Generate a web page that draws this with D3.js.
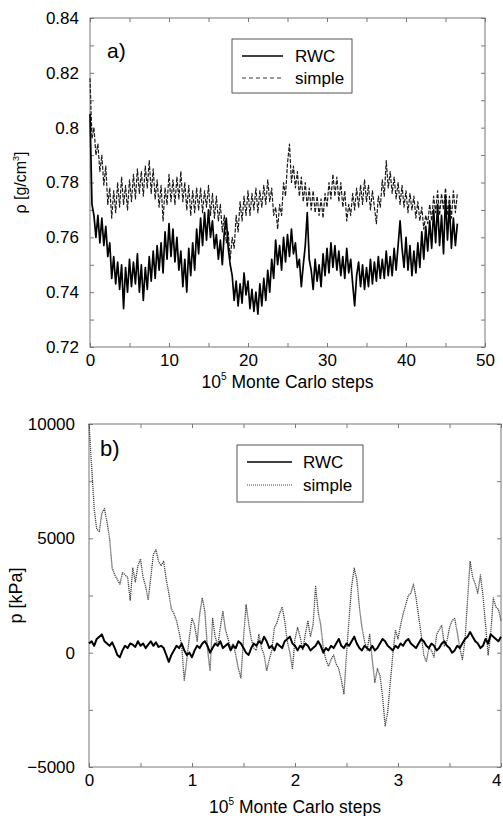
<!DOCTYPE html>
<html>
<head>
<meta charset="utf-8">
<script src="https://cdn.jsdelivr.net/npm/d3@7"></script>
<style>
  body { margin: 0; background: #fff; }
  svg text { font-family: "Liberation Sans", Arial, Helvetica, sans-serif; fill: #000; }
  .frame { fill: none; stroke: #777; stroke-width: 1; }
  .tick line { stroke: #777; }
  .domain { display: none; }
</style>
</head>
<body>
<script>
(function(){

//panel a) density, one sample every 0.25 x 10^5 steps
var stepA = 0.25;
var rhoSimple = [
  0.818, 0.796, 0.800, 0.790, 0.794, 0.784, 0.790, 0.779, 0.786, 0.772, 0.778, 0.767,
  0.777, 0.769, 0.780, 0.771, 0.782, 0.772, 0.779, 0.770, 0.781, 0.773, 0.783, 0.774,
  0.785, 0.776, 0.784, 0.775, 0.786, 0.778, 0.788, 0.776, 0.785, 0.774, 0.781, 0.771,
  0.779, 0.766, 0.778, 0.772, 0.783, 0.773, 0.781, 0.772, 0.782, 0.774, 0.784, 0.773,
  0.780, 0.770, 0.779, 0.768, 0.777, 0.769, 0.778, 0.770, 0.778, 0.769, 0.777, 0.771,
  0.779, 0.768, 0.776, 0.767, 0.775, 0.766, 0.772, 0.762, 0.768, 0.758, 0.762, 0.752,
  0.760, 0.756, 0.768, 0.762, 0.773, 0.766, 0.775, 0.768, 0.777, 0.768, 0.776, 0.770,
  0.778, 0.769, 0.777, 0.771, 0.779, 0.772, 0.781, 0.773, 0.778, 0.768, 0.771, 0.763,
  0.772, 0.768, 0.780, 0.775, 0.787, 0.794, 0.780, 0.786, 0.778, 0.784, 0.775, 0.782,
  0.773, 0.780, 0.771, 0.778, 0.770, 0.777, 0.769, 0.775, 0.768, 0.774, 0.767, 0.776,
  0.771, 0.780, 0.774, 0.783, 0.775, 0.782, 0.773, 0.780, 0.771, 0.777, 0.766, 0.772,
  0.768, 0.776, 0.770, 0.778, 0.771, 0.779, 0.772, 0.781, 0.773, 0.779, 0.770, 0.777,
  0.771, 0.765, 0.775, 0.771, 0.781, 0.775, 0.788, 0.778, 0.784, 0.776, 0.782, 0.774,
  0.780, 0.772, 0.779, 0.771, 0.777, 0.769, 0.776, 0.770, 0.775, 0.767, 0.773, 0.766,
  0.771, 0.763, 0.768, 0.765, 0.772, 0.766, 0.775, 0.769, 0.777, 0.768, 0.776, 0.770,
  0.778, 0.768, 0.775, 0.767, 0.777, 0.769, 0.776
];
var rhoRWC = [
  0.805, 0.772, 0.768, 0.760, 0.768, 0.758, 0.767, 0.757, 0.764, 0.753, 0.758, 0.745,
  0.753, 0.743, 0.751, 0.741, 0.750, 0.734, 0.749, 0.740, 0.752, 0.742, 0.751, 0.743,
  0.754, 0.740, 0.750, 0.737, 0.749, 0.741, 0.753, 0.744, 0.755, 0.745, 0.757, 0.748,
  0.758, 0.747, 0.762, 0.752, 0.765, 0.753, 0.763, 0.751, 0.760, 0.748, 0.755, 0.742,
  0.752, 0.740, 0.756, 0.746, 0.758, 0.748, 0.763, 0.754, 0.767, 0.757, 0.769, 0.759,
  0.770, 0.760, 0.766, 0.756, 0.761, 0.752, 0.759, 0.750, 0.762, 0.767, 0.756, 0.750,
  0.746, 0.737, 0.744, 0.735, 0.743, 0.736, 0.747, 0.739, 0.744, 0.734, 0.741, 0.733,
  0.740, 0.732, 0.743, 0.735, 0.745, 0.737, 0.748, 0.740, 0.752, 0.745, 0.759, 0.750,
  0.757, 0.748, 0.760, 0.751, 0.761, 0.753, 0.763, 0.754, 0.758, 0.749, 0.752, 0.742,
  0.750, 0.757, 0.769, 0.752, 0.748, 0.741, 0.752, 0.744, 0.750, 0.742, 0.754, 0.746,
  0.756, 0.747, 0.758, 0.749, 0.757, 0.748, 0.755, 0.746, 0.753, 0.745, 0.756, 0.747,
  0.752, 0.743, 0.735, 0.746, 0.751, 0.742, 0.750, 0.741, 0.749, 0.742, 0.752, 0.743,
  0.751, 0.744, 0.753, 0.745, 0.752, 0.745, 0.755, 0.746, 0.753, 0.746, 0.756, 0.748,
  0.757, 0.766, 0.756, 0.749, 0.760, 0.748, 0.757, 0.746, 0.755, 0.747, 0.758, 0.749,
  0.762, 0.752, 0.764, 0.755, 0.766, 0.756, 0.770, 0.758, 0.772, 0.757, 0.768, 0.754,
  0.775, 0.759, 0.772, 0.756, 0.767, 0.757, 0.765
];

//panel b) pressure, one sample every 0.025 x 10^5 steps
var stepB = 0.025;
var pSimple = [
  10000, 8200, 6300, 5400, 5300, 6100, 6300, 5700, 5000, 3700,
  3400, 3200, 3000, 3500, 3400, 3300, 2300, 3700, 3100, 3800,
  4100, 3300, 2900, 2300, 3300, 4300, 4500, 4000, 3800, 4000,
  3200, 2600, 1900, 1700, 1400, 900, 300, -1200, -300, 700,
  1500, 1200, 500, 1700, 2400, 1800, 200, -800, 1500, 700,
  300, 1100, 1800, 1000, 600, 200, 400, -100, -700, -1100,
  600, 2100, 1300, 600, 200, 100, 800, 200, -100, -800,
  -300, 100, 1100, 1300, 1700, 2000, 1400, 500, 0, -700,
  600, 1100, 700, 100, 800, 1400, 700, 1200, 2900, 1800,
  1200, 200, -300, -600, -300, -100, -500, -700, -1200, -1800,
  -100, 1500, 2900, 3700, 3200, 2000, 1100, 500, 100, 800,
  -300, -1300, -700, -1000, -1900, -3200, -2600, -1300, -100, 1000,
  600, 1200, 1700, 2100, 2500, 2600, 3000, 2400, 1600, 800,
  -100, -400, 200, 100, -200, 800, 1000, 1200, 300, 500,
  1100, 1400, 1500, 900, 200, -300, 500, 2300, 4000, 3300,
  3000, 2600, 3400, 2500, 1200, -100, 800, 2400, 2000, 1900,
  1400
];
var pRWC = [
  400, 500, 300, 600, 700, 800, 500, 400, 300, 450,
  200, -100, -200, 100, 300, 200, 400, 350, 250, 500,
  300, 400, 200, 350, 500, 300, 450, 250, 300, 200,
  -100, -400, -100, 100, 300, 200, 400, 100, -100, 0,
  -200, 100, 300, 200, 400, 500, 300, 0, 200, 400,
  300, 500, 200, 300, 400, 100, 300, 200, 500, 400,
  200, 0, -100, 200, 400, 300, 500, 400, 700, 500,
  200, 300, 100, 400, 300, 200, 500, 600, 700, 400,
  300, 100, 300, 200, 400, 300, 100, 200, 300, 500,
  300, 0, 200, 100, 300, 200, 400, 600, 300, 200,
  400, 300, 500, 700, 400, 200, 100, 300, 200, 100,
  300, 100, 200, 400, 600, 500, 300, 200, 100, 300,
  200, 400, 300, 500, 600, 400, 300, 200, 400, 600,
  500, 300, 200, 400, 300, 100, 200, 400, 500, 300,
  200, 0, 100, 300, 200, 400, 600, 700, 900, 700,
  500, 400, 200, 300, 600, 400, 800, 700, 600, 500,
  700
];

//tick values
var xMajorA = [0, 10, 20, 30, 40, 50],
    xAllA = [0, 5, 10, 15, 20, 25, 30, 35, 40, 45, 50],
    yMajorA = [0.72, 0.74, 0.76, 0.78, 0.8, 0.82, 0.84],
    yAllA = [0.72, 0.73, 0.74, 0.75, 0.76, 0.77, 0.78, 0.79, 0.8, 0.81, 0.82, 0.83, 0.84];
var xMajorB = [0, 1, 2, 3, 4],
    xAllB = [0, 0.5, 1, 1.5, 2, 2.5, 3, 3.5, 4],
    yMajorB = [-5000, 0, 5000, 10000],
    yAllB = [-5000, -2500, 0, 2500, 5000, 7500, 10000];

var seriesNames = ["RWC", "simple"];

var width = 503,
    height = 816;

var svg = d3.select("body")
    .append("svg")
    .attr("width", width)
    .attr("height", height);

//panel a)
var xA = d3.scaleLinear().domain([0, 50]).range([90, 485]),
    yA = d3.scaleLinear().domain([0.72, 0.84]).range([347, 18]);

drawAxes(svg, xA, yA, {
    xAll: xAllA, xMajor: xMajorA, yAll: yAllA, yMajor: yMajorA,
    yFormat: function(d){ return String(+d.toFixed(2)); },
    xFormat: function(d){ return String(d); },
    yPad: 11, labelY: 388, labelSize: 17.5
});
yLabel(svg, 26, (18 + 347) / 2, "ρ [g/cm", "3", "]", 16);

drawSeries(svg, rhoSimple, stepA, xA, yA, {stroke: "#1a1a1a", width: 1.2, dash: "4,1.5"});
drawSeries(svg, rhoRWC, stepA, xA, yA, {stroke: "#000", width: 1.7, dash: null});

svg.append("text").attr("x", 107).attr("y", 58).style("font-size", "21px").text("a)");

legend(svg, {x: 232, y: 39, w: 120, h: 54, lx0: 242, lx1: 283, tx: 295, y1: 56, y2: 78,
    dash2: "4,3", stroke2: "#333"});

//panel b)
var xB = d3.scaleLinear().domain([0, 4]).range([89, 501]),
    yB = d3.scaleLinear().domain([-5000, 10000]).range([767, 424]);

drawAxes(svg, xB, yB, {
    xAll: xAllB, xMajor: xMajorB, yAll: yAllB, yMajor: yMajorB,
    yFormat: d3.format("d"),
    xFormat: function(d){ return String(d); },
    yPad: 14, labelY: 813, labelSize: 17.5
});
yLabel(svg, 22, (424 + 767) / 2, "p [kPa]", "", "", 18);

drawSeries(svg, pSimple, stepB, xB, yB, {stroke: "#444", width: 1.3, dash: "1.2,0.8"});
drawSeries(svg, pRWC, stepB, xB, yB, {stroke: "#000", width: 2, dash: null});

svg.append("text").attr("x", 100).attr("y", 456).style("font-size", "22px").text("b)");

legend(svg, {x: 237, y: 445, w: 126, h: 57, lx0: 247, lx1: 292, tx: 303, y1: 462, y2: 485,
    dash2: "1,1", stroke2: "#444"});

//keep the last x label of panel b inside the page edge
svg.selectAll(".tick text")
    .filter(function(d){ return d === 4; })
    .attr("text-anchor", "end")
    .attr("dx", 0);

//frame with inward ticks on all four sides
function drawAxes(svg, x, y, o){
    var x0 = x.range()[0], x1 = x.range()[1],
        yb = y.range()[0], yt = y.range()[1];

    svg.append("rect")
        .attr("class", "frame")
        .attr("x", x0).attr("y", yt)
        .attr("width", x1 - x0).attr("height", yb - yt);

    var fmtX = function(d){ return o.xMajor.indexOf(d) >= 0 ? o.xFormat(d) : ""; };
    var fmtY = function(d){ return o.yMajor.some(function(m){ return Math.abs(m - d) < 1e-9; }) ? o.yFormat(d) : ""; };

    svg.append("g")
        .attr("transform", "translate(0," + yb + ")")
        .call(d3.axisBottom(x).tickValues(o.xAll).tickSize(-4).tickPadding(7).tickFormat(fmtX))
        .selectAll("text").style("font-size", "17px");

    svg.append("g")
        .attr("transform", "translate(0," + yt + ")")
        .call(d3.axisTop(x).tickValues(o.xAll).tickSize(-4).tickFormat(""));

    svg.append("g")
        .attr("transform", "translate(" + x0 + ",0)")
        .call(d3.axisLeft(y).tickValues(o.yAll).tickSize(-4).tickPadding(o.yPad).tickFormat(fmtY))
        .selectAll("text").style("font-size", "17px");

    svg.append("g")
        .attr("transform", "translate(" + x1 + ",0)")
        .call(d3.axisRight(y).tickValues(o.yAll).tickSize(-4).tickFormat(""));

    svg.selectAll(".tick text").attr("fill", "#000");

    //x axis title with superscript
    var t = svg.append("text")
        .attr("x", (x0 + x1) / 2)
        .attr("y", o.labelY)
        .attr("text-anchor", "middle")
        .style("font-size", o.labelSize + "px");
    t.append("tspan").text("10");
    t.append("tspan").attr("dy", -8).style("font-size", "10px").text("5");
    t.append("tspan").attr("dy", 8).text(" Monte Carlo steps");
};

function yLabel(svg, cx, cy, pre, sup, post, size){
    var t = svg.append("text")
        .attr("transform", "translate(" + cx + "," + cy + ") rotate(-90)")
        .attr("text-anchor", "middle")
        .style("font-size", size + "px");
    t.append("tspan").text(pre);
    if (sup){
        t.append("tspan").attr("dy", -7).style("font-size", "9px").text(sup);
        t.append("tspan").attr("dy", 7).text(post);
    };
};

function drawSeries(svg, values, step, x, y, st){
    var line = d3.line()
        .x(function(d, i){ return x(i * step); })
        .y(function(d){ return y(d); });

    svg.append("path")
        .datum(values)
        .attr("d", line)
        .attr("fill", "none")
        .attr("stroke", st.stroke)
        .attr("stroke-width", st.width)
        .attr("stroke-linejoin", "round")
        .attr("stroke-dasharray", st.dash);
};

function legend(svg, L){
    svg.append("rect")
        .attr("x", L.x).attr("y", L.y)
        .attr("width", L.w).attr("height", L.h)
        .attr("fill", "#fff").attr("stroke", "#555").attr("stroke-width", 1);

    [L.y1, L.y2].forEach(function(yy, i){
        svg.append("line")
            .attr("x1", L.lx0).attr("x2", L.lx1)
            .attr("y1", yy).attr("y2", yy)
            .attr("stroke", i == 0 ? "#000" : L.stroke2)
            .attr("stroke-width", i == 0 ? 1.3 : 1)
            .attr("stroke-dasharray", i == 0 ? null : L.dash2);
        svg.append("text")
            .attr("x", L.tx).attr("y", yy + 6)
            .style("font-size", "17px")
            .text(seriesNames[i]);
    });
};

})();
</script>
</body>
</html>
